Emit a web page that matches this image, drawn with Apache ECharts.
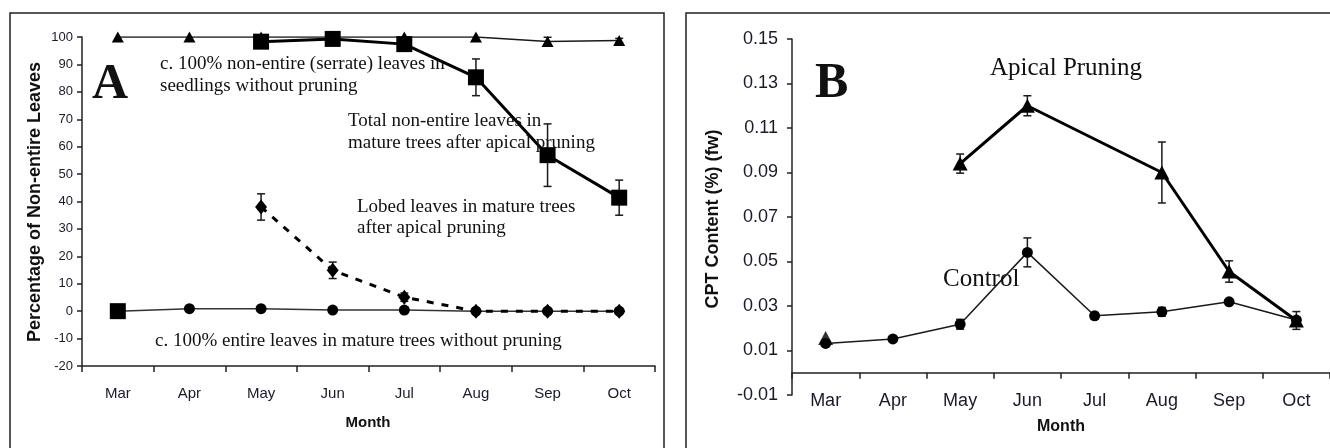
<!DOCTYPE html>
<html><head><meta charset="utf-8">
<script src="https://cdn.jsdelivr.net/npm/echarts@6/dist/echarts.min.js"></script>
<style>html,body{margin:0;padding:0;background:#fff}#c{width:1330px;height:448px}</style>
</head><body><div id="c"></div>
<script>
// ---------- data ----------
var months = ['Mar','Apr','May','Jun','Jul','Aug','Sep','Oct'];
// Panel A: percentage of non-entire leaves
var seedlingsA      = [100, 100, 100, 100, 100, 100, 98.4, 98.7];
var seedlingsErrA   = [0, 0, 0, 0, 0, 0, 1.5, 0.8];
var totalPrunedA    = [0, null, 98.3, 99.3, 97.4, 85.3, 56.9, 41.4];
var totalPrunedErrA = [0, 0, 0, 0, 0, 6.7, 11.4, 6.4];
var lobedA          = [null, null, 38, 14.9, 5.1, 0, 0, 0];
var lobedErrA       = [0, 0, 4.8, 3.0, 1.5, 0, 0, 0];
var entireA         = [0, 0.9, 0.9, 0.4, 0.4, 0, 0, 0];
var yTicksA = {min: -20, max: 100, interval: 10};
// Panel B: CPT content (%) (fw)
var controlB        = [0.0132, 0.0152, 0.0218, 0.0541, 0.0256, 0.0274, 0.0319, 0.0237];
var controlErrB     = [0, 0, 0.0022, 0.0065, 0.0015, 0.002, 0.001, 0];
var apicalB         = [null, null, 0.094, 0.120, null, 0.090, 0.0455, 0.0235];
var apicalErrB      = [0, 0, 0.0043, 0.0045, 0, 0.0137, 0.0048, 0.004];
var apicalStartB    = [0.0156, null, null, null, null, null, null, null];
var yTicksB = {min: -0.01, max: 0.15, interval: 0.02};

// ---------- chart ----------
var chart = echarts.init(document.getElementById('c'), null, {renderer: 'canvas'});
var SANS = 'Liberation Sans, Arial, sans-serif';
var SERIF = 'Liberation Serif, Times New Roman, serif';
var INK = '#111';

function errSeries(gi, vals, errs, z) {
  var d = [];
  vals.forEach(function (v, i) {
    if (v != null && errs[i]) d.push([i, v - errs[i], v + errs[i]]);
  });
  return {
    type: 'custom', xAxisIndex: gi, yAxisIndex: gi, z: z || 3, silent: true,
    data: d,
    renderItem: function (params, api) {
      var lo = api.coord([api.value(0), api.value(1)]);
      var hi = api.coord([api.value(0), api.value(2)]);
      var w = 4, st = {stroke: '#1a1a1a', lineWidth: 1.5};
      return {type: 'group', children: [
        {type: 'line', shape: {x1: lo[0], y1: lo[1], x2: hi[0], y2: hi[1]}, style: st},
        {type: 'line', shape: {x1: lo[0] - w, y1: lo[1], x2: lo[0] + w, y2: lo[1]}, style: st},
        {type: 'line', shape: {x1: hi[0] - w, y1: hi[1], x2: hi[0] + w, y2: hi[1]}, style: st}
      ]};
    }
  };
}

function xAx(gi, fs, margin, onZero) {
  return {
    type: 'category', gridIndex: gi, data: months, boundaryGap: true,
    axisLine: {onZero: onZero, lineStyle: {color: '#222', width: 1.5}},
    axisTick: {show: true, length: 6, inside: false, lineStyle: {color: '#222', width: 1.5}},
    axisLabel: {fontFamily: SANS, fontSize: fs, color: '#1a1a2a', margin: margin, interval: 0},
    splitLine: {show: false}
  };
}
function yAx(gi, t, fs, margin, fmt) {
  return {
    type: 'value', gridIndex: gi, min: t.min, max: t.max, interval: t.interval,
    axisLine: {show: true, lineStyle: {color: '#222', width: 1.5}},
    axisTick: {show: true, length: 5, lineStyle: {color: '#222', width: 1.5}},
    axisLabel: {fontFamily: SANS, fontSize: fs, color: '#1a1a2a', margin: margin, formatter: fmt},
    splitLine: {show: false}
  };
}

function txt(x, y, s, fs, opts) {
  opts = opts || {};
  return {
    type: 'text', x: x, y: y, rotation: opts.rot || 0, z: 100,
    style: {text: s, fontFamily: opts.family || SERIF, fontSize: fs, fontWeight: opts.weight || 'normal',
      fill: INK, textAlign: opts.align || 'left', textVerticalAlign: 'middle'}
  };
}

var option = {
  animation: false,
  backgroundColor: '#fff',
  grid: [
    {left: 82, right: 675, top: 37, bottom: 82},
    {left: 792, right: 0, top: 39, bottom: 53}
  ],
  xAxis: [xAx(0, 15, 20, false), xAx(1, 18, -3, true)],
  yAxis: [
    yAx(0, yTicksA, 13, 9, function (v) { return String(Math.round(v)); }),
    yAx(1, yTicksB, 18, 14, function (v) { return v.toFixed(2); })
  ],
  series: [
    // Panel A
    {type: 'line', xAxisIndex: 0, yAxisIndex: 0, data: seedlingsA, z: 2,
     symbol: 'triangle', symbolSize: [12, 11], showAllSymbol: true,
     lineStyle: {color: '#1a1a1a', width: 1.5}, itemStyle: {color: '#000'}},
    errSeries(0, seedlingsA, seedlingsErrA, 2),
    {type: 'line', xAxisIndex: 0, yAxisIndex: 0, data: entireA, z: 2,
     symbol: 'circle', symbolSize: 11, showAllSymbol: true,
     lineStyle: {color: '#333', width: 1.5}, itemStyle: {color: '#000'}},
    {type: 'line', xAxisIndex: 0, yAxisIndex: 0, data: lobedA, z: 3,
     symbol: 'diamond', symbolSize: [12, 15], showAllSymbol: true, connectNulls: false,
     lineStyle: {color: '#000', width: 3, type: [7, 8]}, itemStyle: {color: '#000'}},
    errSeries(0, lobedA, lobedErrA, 3),
    {type: 'line', xAxisIndex: 0, yAxisIndex: 0, data: totalPrunedA, z: 4,
     symbol: 'rect', symbolSize: 16, showAllSymbol: true, connectNulls: false,
     lineStyle: {color: '#000', width: 3}, itemStyle: {color: '#000'}},
    errSeries(0, totalPrunedA, totalPrunedErrA, 4),
    // Panel B
    {type: 'line', xAxisIndex: 1, yAxisIndex: 1, data: controlB, z: 2,
     symbol: 'circle', symbolSize: 11, showAllSymbol: true,
     lineStyle: {color: '#1a1a1a', width: 1.5}, itemStyle: {color: '#000'}},
    errSeries(1, controlB, controlErrB, 2),
    {type: 'line', xAxisIndex: 1, yAxisIndex: 1, data: apicalB, z: 3,
     symbol: 'triangle', symbolSize: [15, 14], showAllSymbol: true, connectNulls: true,
     lineStyle: {color: '#000', width: 3}, itemStyle: {color: '#000'}},
    errSeries(1, apicalB, apicalErrB, 3),
    {type: 'scatter', xAxisIndex: 1, yAxisIndex: 1, data: apicalStartB, z: 3,
     symbol: 'triangle', symbolSize: [15, 14], itemStyle: {color: '#000'}}
  ],
  graphic: [
    {type: 'rect', shape: {x: 10, y: 13, width: 654, height: 470}, z: 0,
     style: {fill: 'none', stroke: '#222', lineWidth: 1.5}},
    {type: 'rect', shape: {x: 686, y: 13, width: 660, height: 470}, z: 0,
     style: {fill: 'none', stroke: '#222', lineWidth: 1.5}},
    // panel A texts
    txt(92, 85, 'A', 50, {weight: 'bold'}),
    txt(160, 64, 'c. 100% non-entire (serrate) leaves in', 19),
    txt(160, 86, 'seedlings without pruning', 19),
    txt(348, 121, 'Total non-entire leaves in', 19),
    txt(348, 143, 'mature trees after apical pruning', 19),
    txt(357, 207, 'Lobed leaves in mature trees', 19),
    txt(357, 228, 'after apical pruning', 19),
    txt(155, 341, 'c. 100% entire leaves in mature trees without pruning', 19),
    txt(368, 423, 'Month', 15, {family: SANS, weight: 'bold', align: 'center'}),
    txt(35, 202, 'Percentage of Non-entire Leaves', 18, {family: SANS, weight: 'bold', align: 'center', rot: Math.PI / 2}),
    // panel B texts
    txt(815, 84, 'B', 50, {weight: 'bold'}),
    txt(990, 68, 'Apical Pruning', 25),
    txt(943, 279, 'Control', 25),
    txt(1061, 427, 'Month', 16, {family: SANS, weight: 'bold', align: 'center'}),
    txt(713, 219, 'CPT Content (%) (fw)', 18, {family: SANS, weight: 'bold', align: 'center', rot: Math.PI / 2})
  ]
};
chart.setOption(option);
</script></body></html>
